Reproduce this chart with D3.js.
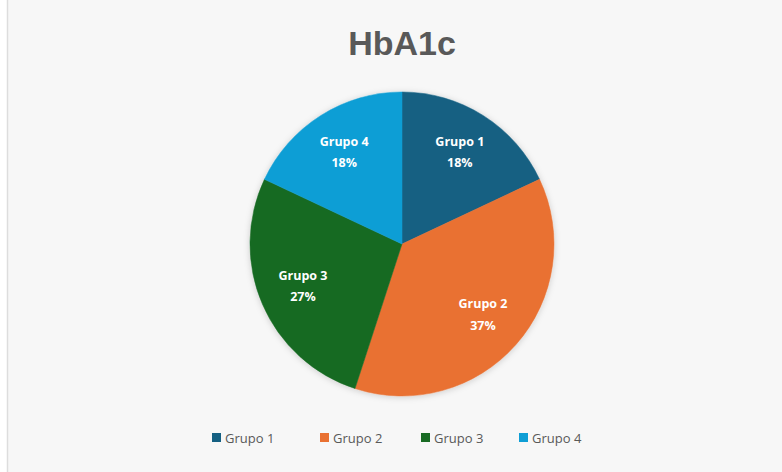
<!DOCTYPE html>
<html>
<head>
<meta charset="utf-8">
<script src="https://cdn.jsdelivr.net/npm/d3@7"></script>
<style>
  html, body { margin: 0; padding: 0; background: #ffffff; }
  svg { display: block; }
</style>
</head>
<body>
<div id="chart"></div>
<script>
// data
const categories = ["Grupo 1", "Grupo 2", "Grupo 3", "Grupo 4"]
const values = [18, 37, 27, 18]
const colours = ["#156082", "#E97132", "#196B24", "#0F9ED5"]
const title = "HbA1c"

const width = 782, height = 472
const cx = 402, cy = 244, radius = 152

const svg = d3.select("#chart").append("svg")
  .attr("width", width)
  .attr("height", height)

// chart area background + left edge line
svg.append("rect")
  .attr("x", 8).attr("y", 0)
  .attr("width", width - 8).attr("height", height)
  .attr("fill", "#f7f7f7")
svg.append("line")
  .attr("x1", 7.5).attr("x2", 7.5)
  .attr("y1", 0).attr("y2", height)
  .attr("stroke", "#dddddd")
  .attr("stroke-width", 1.5)

// soft shadow under the pie
const defs = svg.append("defs")
const f = defs.append("filter").attr("id", "shadow")
  .attr("x", "-20%").attr("y", "-20%").attr("width", "140%").attr("height", "140%")
f.append("feDropShadow")
  .attr("dx", 0).attr("dy", 1).attr("stdDeviation", 3)
  .attr("flood-color", "#000").attr("flood-opacity", 0.18)

// title
svg.append("text")
  .attr("x", cx)
  .attr("y", 55)
  .attr("text-anchor", "middle")
  .attr("font-family", "'Liberation Sans', Arial, sans-serif")
  .attr("font-weight", "bold")
  .attr("font-size", 34)
  .attr("fill", "#595959")
  .text(title)

const color = d3.scaleOrdinal().domain(categories).range(colours)
const total = d3.sum(values)
const pieData = d3.pie().sort(null)(values)
  .map((p, i) => Object.assign(p, { name: categories[i] }))

const arc = d3.arc().innerRadius(0).outerRadius(radius)
const labelArc = d3.arc().innerRadius(radius * 0.71).outerRadius(radius * 0.71)

const g = svg.append("g").attr("transform", `translate(${cx},${cy})`)

g.append("g").attr("filter", "url(#shadow)")
  .selectAll("path")
  .data(pieData)
  .enter().append("path")
  .attr("d", arc)
  .attr("fill", d => color(d.name))
  .attr("stroke", d => color(d.name))
  .attr("stroke-width", 0.5)

// slice labels
const labels = g.selectAll("text.lbl")
  .data(pieData)
  .enter().append("text")
  .attr("class", "lbl")
  .attr("transform", d => `translate(${labelArc.centroid(d)})`)
  .attr("text-anchor", "middle")
  .attr("font-family", "'Open Sans', 'DejaVu Sans', sans-serif")
  .attr("font-weight", "bold")
  .attr("font-size", 12.5)
  .attr("fill", "#ffffff")

labels.append("tspan")
  .attr("x", 0).attr("dy", "-0.55em")
  .text(d => d.name)
labels.append("tspan")
  .attr("x", 0).attr("dy", "1.7em")
  .text(d => Math.round(d.data / total * 100) + "%")

// legend
const legendX = [212, 320, 421, 519]
const legend = svg.append("g")
  .selectAll("g")
  .data(categories)
  .enter().append("g")
  .attr("transform", (d, i) => `translate(${legendX[i]},438)`)

legend.append("rect")
  .attr("x", 0).attr("y", -5)
  .attr("width", 9).attr("height", 9)
  .attr("fill", d => color(d))

legend.append("text")
  .attr("x", 13).attr("y", 4.5)
  .attr("font-family", "'Open Sans', 'DejaVu Sans', sans-serif")
  .attr("font-size", 13)
  .attr("fill", "#595959")
  .text(d => d)
</script>
</body>
</html>
